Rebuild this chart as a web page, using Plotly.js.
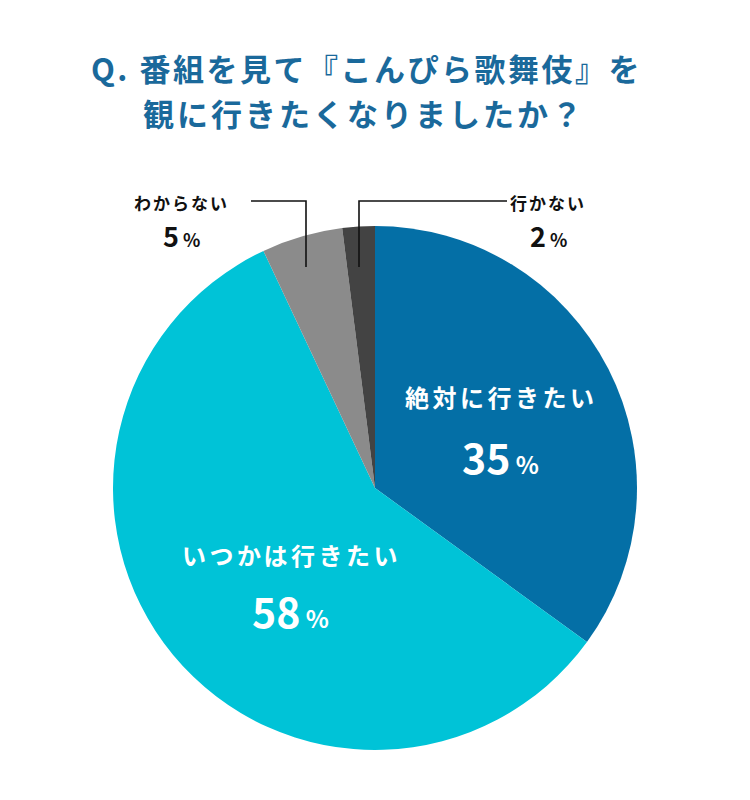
<!DOCTYPE html>
<html>
<head>
<meta charset="utf-8">
<script src="https://cdn.plot.ly/plotly-3.0.1.min.js"></script>
<style>
  html, body { margin: 0; padding: 0; background: #ffffff; }
  #chart { width: 750px; height: 800px; }
</style>
</head>
<body>
<div id="chart"></div>
<script>
// Survey answers, clockwise from 12 o'clock
const categories = ['絶対に行きたい', 'いつかは行きたい', 'わからない', '行かない'];
const shares = [35, 58, 5, 2];
const sliceColors = ['#046fa6', '#00c3d7', '#8b8b8b', '#434343'];
const titleLines = ['Q. 番組を見て『こんぴら歌舞伎』を', '観に行きたくなりましたか？'];

const W = 750, H = 800;
const px = x => x / W;
const py = y => 1 - y / H;

const FONT = '"Noto Sans CJK JP", "Noto Sans", sans-serif';
const spaced = (s, ls) => `<span style="letter-spacing:${ls}px">${s}</span>`;
const pct = (v, big, small) =>
  `<span style="font-size:${big}px">${v}</span><span style="font-size:${small}px"> %</span>`;

const trace = {
  type: 'pie',
  labels: categories,
  values: shares,
  sort: false,
  direction: 'clockwise',
  rotation: 0,
  textinfo: 'none',
  hoverinfo: 'label+percent',
  marker: { colors: sliceColors, line: { width: 0 } },
  domain: { x: [px(113), px(637)], y: [py(750), py(226)] },
  showlegend: false
};

const annotations = [];
function addText(text, x, y, size, color) {
  annotations.push({
    text: text, x: px(x), y: py(y), xref: 'paper', yref: 'paper',
    xanchor: 'center', yanchor: 'middle', align: 'center', showarrow: false,
    font: { family: FONT, size: size, color: color, weight: 700 }
  });
}

// Two-line title
addText(spaced(titleLines[0], 2.5), 366, 68, 31, '#1a699b');
addText(spaced(titleLines[1], 3), 364, 113, 31, '#1a699b');

// Labels inside the two large slices
addText(spaced(categories[0], 3.5), 501, 396, 24, '#ffffff');
addText(pct(shares[0], 41, 24), 500, 456, 41, '#ffffff');
addText(spaced(categories[1], 3.5), 291, 554, 24, '#ffffff');
addText(pct(shares[1], 41, 24), 290, 610, 41, '#ffffff');

// Callouts for the two small slices
addText(spaced(categories[2], 2), 181, 203, 17, '#111111');
addText(pct(shares[2], 27, 18), 181, 236, 27, '#111111');
addText(spaced(categories[3], 2), 548, 203, 17, '#111111');
addText(pct(shares[3], 27, 18), 548, 236, 27, '#111111');

// Leader lines
const lineStyle = { color: '#111111', width: 1.6 };
const shapes = [
  { type: 'path', xref: 'paper', yref: 'paper',
    path: `M ${px(251)},${py(201)} L ${px(306)},${py(201)} L ${px(306)},${py(267)}`,
    line: lineStyle },
  { type: 'path', xref: 'paper', yref: 'paper',
    path: `M ${px(507)},${py(201)} L ${px(359)},${py(201)} L ${px(359)},${py(267)}`,
    line: lineStyle }
];

const layout = {
  width: W, height: H,
  margin: { l: 0, r: 0, t: 0, b: 0 },
  paper_bgcolor: '#ffffff',
  plot_bgcolor: '#ffffff',
  annotations: annotations,
  shapes: shapes
};

Plotly.newPlot('chart', [trace], layout, { displayModeBar: false, staticPlot: true });
</script>
</body>
</html>
